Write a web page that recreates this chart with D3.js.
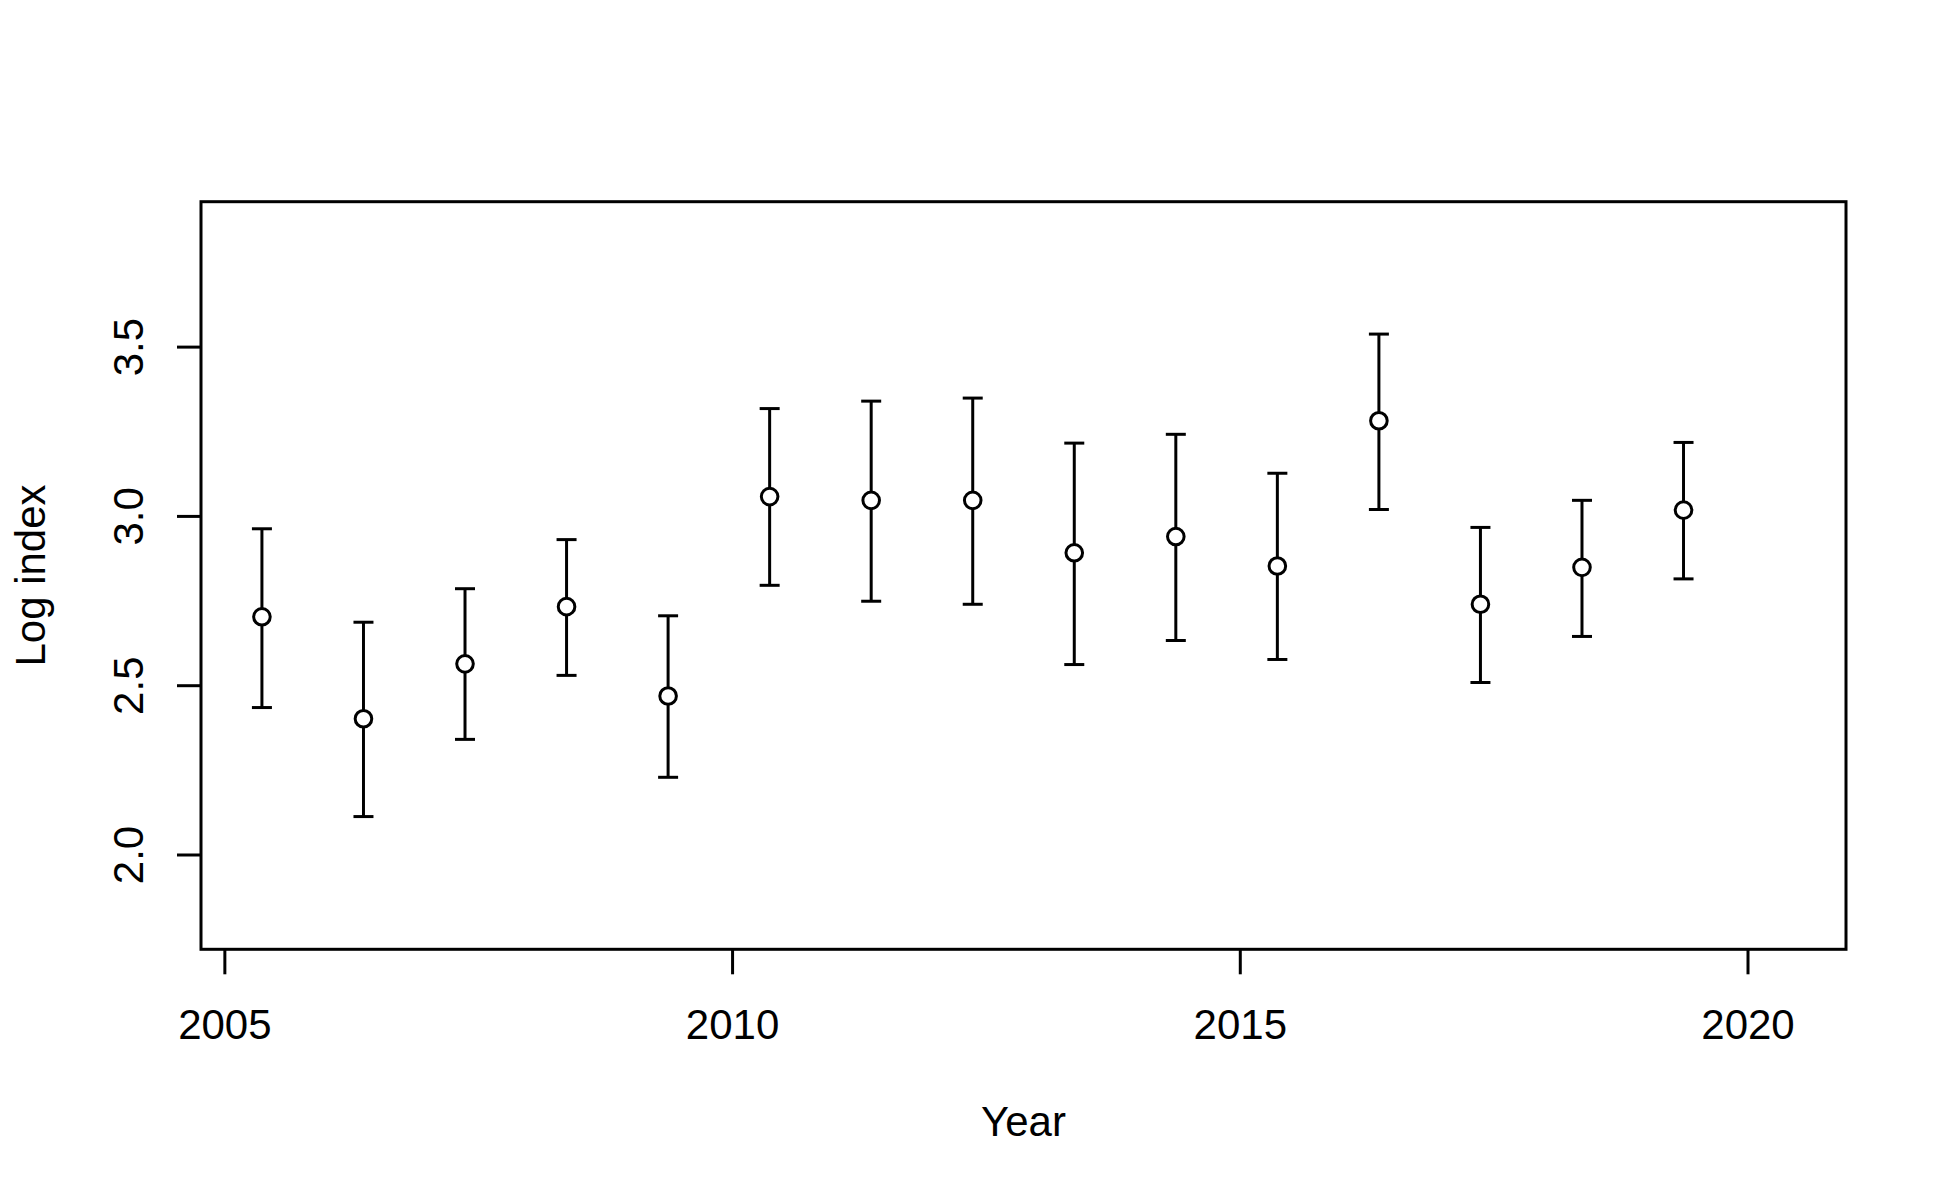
<!DOCTYPE html>
<html>
<head>
<meta charset="utf-8">
<script src="https://cdn.jsdelivr.net/npm/d3@7"></script>
<style>
  html, body { margin: 0; padding: 0; background: #fff; }
  text { font-family: "Liberation Sans", Arial, sans-serif; fill: #000; }
</style>
</head>
<body>
<svg id="chart" width="1950" height="1200"></svg>
<script>
// ---- data ----
const xPos   = [2005.37, 2006.37, 2007.37, 2008.37, 2009.37, 2010.37, 2011.37, 2012.37,
                2013.37, 2014.37, 2015.37, 2016.37, 2017.37, 2018.37, 2019.37];
const est    = [2.702, 2.401, 2.563, 2.732, 2.468, 3.057, 3.046, 3.046,
                2.891, 2.939, 2.852, 3.281, 2.739, 2.848, 3.017];
const upper  = [2.962, 2.686, 2.785, 2.930, 2.705, 3.317, 3.339, 3.348,
                3.215, 3.241, 3.126, 3.537, 2.966, 3.046, 3.217];
const lower  = [2.434, 2.112, 2.340, 2.529, 2.228, 2.795, 2.748, 2.739,
                2.561, 2.632, 2.576, 3.019, 2.508, 2.644, 2.814];
const xTicks = [2005, 2010, 2015, 2020];
const yTicks = [2.0, 2.5, 3.0, 3.5];
const xDomain = [2004.77, 2020.97];
const yDomain = [1.72, 3.928];
const xTitle = "Year";
const yTitle = "Log index";

// ---- layout ----
const plot = { left: 201, top: 201.7, right: 1846, bottom: 949.3 };
const lw = 3;
const fs = 42;

const svg = d3.select("#chart");
const x = d3.scaleLinear().domain(xDomain).range([plot.left, plot.right]);
const y = d3.scaleLinear().domain(yDomain).range([plot.bottom, plot.top]);

const data = xPos.map((v, i) => ({ x: v, m: est[i], lo: lower[i], hi: upper[i] }));

// frame
svg.append("rect")
  .attr("x", plot.left).attr("y", plot.top)
  .attr("width", plot.right - plot.left).attr("height", plot.bottom - plot.top)
  .attr("fill", "none").attr("stroke", "#000").attr("stroke-width", lw);

// x axis
const xAxis = d3.axisBottom(x).tickValues(xTicks).tickFormat(d3.format("d"))
  .tickSize(25).tickPadding(35);
const gx = svg.append("g").attr("transform", `translate(0,${plot.bottom})`).call(xAxis);
gx.select(".domain").remove();
gx.selectAll(".tick line").attr("stroke", "#000").attr("stroke-width", lw);
gx.selectAll(".tick text").attr("font-size", fs).attr("font-family", "Liberation Sans, Arial, sans-serif")
  .attr("fill", "#000");

// y axis
const yAxis = d3.axisLeft(y).tickValues(yTicks).tickFormat(d3.format(".1f"))
  .tickSize(24).tickPadding(0);
const gy = svg.append("g").attr("transform", `translate(${plot.left},0)`).call(yAxis);
gy.select(".domain").remove();
gy.selectAll(".tick line").attr("stroke", "#000").attr("stroke-width", lw);
gy.selectAll(".tick text")
  .attr("font-size", fs).attr("font-family", "Liberation Sans, Arial, sans-serif").attr("fill", "#000")
  .attr("x", null).attr("dy", null)
  .attr("text-anchor", "middle")
  .attr("transform", `translate(${143 - plot.left},0) rotate(-90)`);

// axis titles
svg.append("text")
  .attr("x", (plot.left + plot.right) / 2).attr("y", 1136)
  .attr("text-anchor", "middle").attr("font-size", fs).text(xTitle);
svg.append("text")
  .attr("transform", `translate(45,${(plot.top + plot.bottom) / 2}) rotate(-90)`)
  .attr("text-anchor", "middle").attr("font-size", fs).text(yTitle);

// error bars
const capHalf = 10;
const g = svg.append("g");
g.selectAll("line.bar").data(data).join("line").attr("class", "bar")
  .attr("x1", d => x(d.x)).attr("x2", d => x(d.x))
  .attr("y1", d => y(d.lo)).attr("y2", d => y(d.hi))
  .attr("stroke", "#000").attr("stroke-width", lw);
g.selectAll("line.capTop").data(data).join("line").attr("class", "capTop")
  .attr("x1", d => x(d.x) - capHalf).attr("x2", d => x(d.x) + capHalf)
  .attr("y1", d => y(d.hi)).attr("y2", d => y(d.hi))
  .attr("stroke", "#000").attr("stroke-width", lw);
g.selectAll("line.capBot").data(data).join("line").attr("class", "capBot")
  .attr("x1", d => x(d.x) - capHalf).attr("x2", d => x(d.x) + capHalf)
  .attr("y1", d => y(d.lo)).attr("y2", d => y(d.lo))
  .attr("stroke", "#000").attr("stroke-width", lw);
g.selectAll("circle").data(data).join("circle")
  .attr("cx", d => x(d.x)).attr("cy", d => y(d.m)).attr("r", 8.3)
  .attr("fill", "#fff").attr("stroke", "#000").attr("stroke-width", lw);
</script>
</body>
</html>
